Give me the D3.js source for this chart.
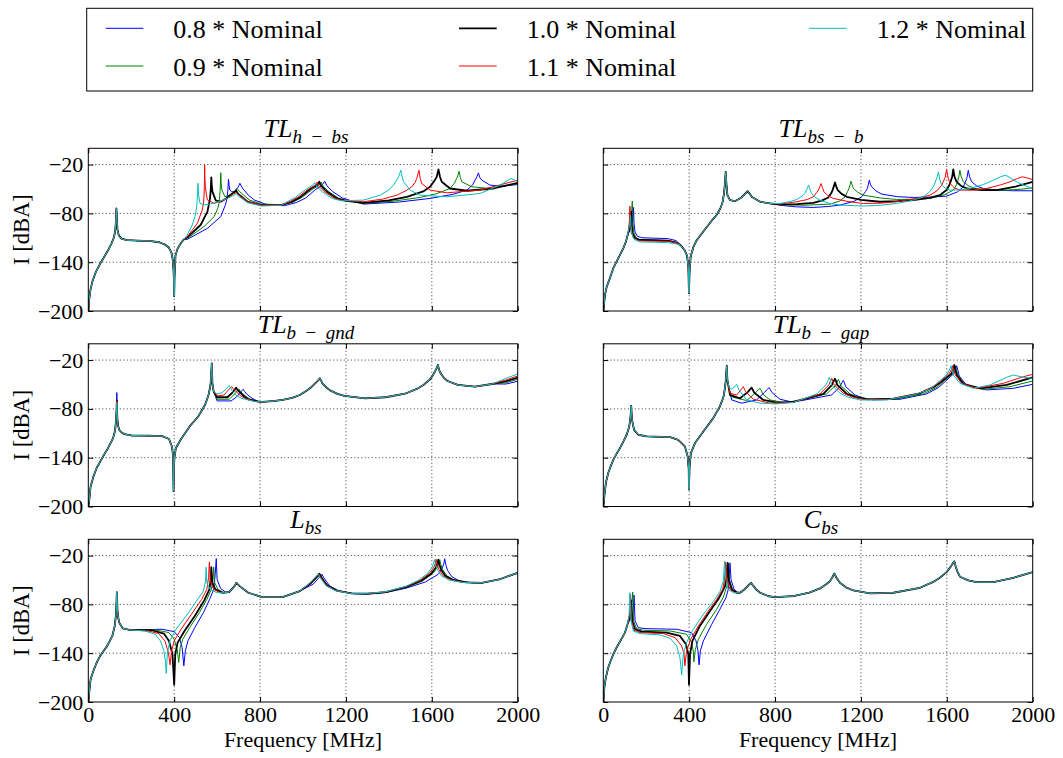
<!DOCTYPE html>
<html><head><meta charset="utf-8">
<script src="https://cdn.jsdelivr.net/npm/d3@7"></script>
<style>
body{margin:0;background:#fff;}
svg{display:block;background:#fff;}
text{font-family:"Liberation Serif","Times New Roman",serif;fill:#000;}
</style></head><body>
<svg id="chart" width="1063" height="758"></svg>
<script>
// ---------- labels / ticks ----------
const seriesLabels = ["0.8 * Nominal","0.9 * Nominal","1.0 * Nominal","1.1 * Nominal","1.2 * Nominal"];
const xTicks = [0,400,800,1200,1600,2000];
const yTicks = [-200,-140,-80,-20];
// [main symbol, subscript part 1, subscript part 2 (after minus)]
const panelTitles = [["TL","h","bs"],["TL","bs","b"],["TL","b","gnd"],["TL","b","gap"],["L","bs",""],["C","bs",""]];
const xLabel = "Frequency [MHz]";
const yLabel = "I [dBA]";

// ---------- data: [frequency MHz, I dBA] ----------
// TL h-bs
const hbsLow = [[0,-200],[4,-186],[10,-174],[20,-163],[35,-152],[55,-142],[75,-133],[95,-124],[110,-116],[120,-109],[126,-100],[129,-88],[131,-74],[133,-88],[136,-100],[142,-107],[155,-111],[180,-113],[230,-113.5],[290,-114],[330,-115.5],[355,-118],[375,-122],[387,-128],[394,-138],[398,-155],[400,-182],[402,-155],[406,-132],[415,-124],[430,-117],[445,-112]];
const hbs08 = hbsLow.concat([[461,-111.9],[555,-98.4],[617,-84],[638,-70],[645,-63.5],[650,-52],[653,-38.1],[656,-46],[659,-51.2],[668,-53.5],[680,-53.3],[695,-49],[702,-45.5],[706,-43],[712,-46],[719,-49.2],[745,-57.5],[773,-63.5],[836,-69.7],[914,-70.5],[971,-66.5],[1013,-61],[1059,-50.5],[1089,-45.5],[1101,-40.4],[1111,-46],[1137,-53],[1183,-61],[1225,-64.5],[1282,-68.6],[1450,-66],[1592,-61.6],[1700,-56.5],[1763,-51.4],[1790,-45],[1801,-39.2],[1810,-35],[1817,-30.2],[1824,-36],[1833,-39.2],[1871,-45.3],[1933,-46.5],[2000,-44.5]]);
const hbs09 = hbsLow.concat([[461,-110.7],[539,-96.3],[586,-84],[603,-74],[609,-67.6],[614,-52],[617,-30],[619,-43],[622,-51.2],[636,-59.4],[650,-58.5],[664,-56.1],[680,-53],[692,-49.2],[698,-51],[705,-53.3],[750,-63.5],[805,-68.4],[900,-69.5],[955,-66],[997,-60],[1043,-50.5],[1073,-46],[1085,-41.5],[1095,-47],[1121,-53.5],[1167,-61.6],[1209,-64.5],[1282,-67.8],[1420,-65],[1546,-60.4],[1620,-56],[1685,-49.4],[1705,-43],[1716,-37],[1722,-33],[1727,-28.2],[1733,-36],[1740,-41.2],[1786,-47.3],[1871,-49.4],[2000,-43.3]]);
const hbs10 = hbsLow.concat([[461,-109.4],[523,-94.3],[555,-77.9],[567,-61.5],[570,-52],[573,-35.7],[575,-45],[578,-53.3],[594,-64.3],[617,-65.6],[640,-62],[664,-57.4],[680,-54],[689,-52],[698,-56],[742,-65.6],[805,-69.7],[900,-69.5],[946,-66],[988,-60],[1034,-50],[1064,-45.5],[1076,-41.2],[1086,-46.5],[1112,-53.5],[1158,-61.6],[1200,-64.5],[1282,-67],[1400,-64],[1484,-59.6],[1560,-53],[1592,-47.3],[1612,-40],[1623,-35],[1631,-26],[1638,-35],[1646,-41.2],[1685,-49.4],[1763,-52.2],[1887,-49.4],[2000,-42.4]]);
const hbs11 = hbsLow.concat([[461,-108.6],[508,-92.2],[531,-75.8],[537,-66],[539,-59.4],[541,-40],[542,-20.5],[543,-35],[545,-47],[550,-57],[555,-63.5],[586,-67.6],[620,-65],[648,-61.5],[675,-56],[689,-54.5],[700,-57.5],[742,-65.6],[805,-69.7],[900,-69.5],[935,-66],[977,-60],[1023,-50.5],[1053,-46],[1065,-41.8],[1075,-47],[1101,-53.5],[1147,-61.6],[1189,-64.5],[1282,-65.7],[1370,-62.5],[1437,-57.6],[1480,-52],[1507,-47.3],[1522,-42],[1530,-37],[1540,-27],[1546,-37],[1553,-43.3],[1592,-51.4],[1670,-54.7],[1825,-51.4],[2000,-39.2]]);
const hbs12 = hbsLow.concat([[461,-106.6],[484,-94.3],[497,-84],[505,-71.7],[509,-57.4],[511,-43],[512,-48],[514,-57.4],[520,-67.6],[539,-69.7],[586,-67.6],[648,-61.5],[680,-57.4],[689,-55.3],[698,-58.6],[742,-66.8],[805,-70.9],[900,-70],[924,-66],[966,-60],[1012,-50.5],[1042,-46],[1054,-42.4],[1064,-47],[1090,-53.5],[1136,-61.6],[1178,-64.5],[1282,-63.7],[1360,-57.6],[1400,-51],[1422,-45.3],[1445,-35],[1456,-27],[1462,-35],[1468,-41],[1499,-51.4],[1546,-57.6],[1670,-59.6],[1825,-55.5],[1918,-45.3],[1969,-37],[2000,-41]]);

// TL bs-b
const bsbRise = [[0,-200],[4,-190],[8,-180],[16,-170],[31,-159.6],[47,-147],[70,-135],[93,-123],[105,-115],[112,-108]];
const bsbMid = [[360,-119],[378,-125],[390,-132],[396,-145],[399,-178],[402,-150],[407,-133],[420,-121],[435,-113],[458,-105],[481,-97],[505,-89],[528,-82],[545,-74],[555,-67],[562,-56],[567,-42],[570,-29],[573,-42],[578,-57.6],[590,-63.7],[613,-65],[644,-60.4],[660,-56],[672,-52.7],[682,-56],[691,-59.6],[730,-65.7],[776,-67.8]];
const bsb08 = bsbRise.concat([[125,-100],[135,-90],[141,-72.7],[143,-92],[148,-103],[158,-108],[180,-110],[240,-110.5],[300,-111],[340,-113.5]], bsbMid, [[823,-70],[900,-72],[978,-72.7],[1050,-71.5],[1102,-69.8],[1170,-65],[1203,-59.6],[1222,-53],[1230,-49.4],[1235,-44],[1239,-39.2],[1244,-44],[1250,-47.3],[1270,-52.5],[1297,-56.3],[1370,-59.5],[1444,-60.4],[1530,-60],[1599,-58.8],[1650,-53.5],[1677,-47.3],[1693,-37.1],[1700,-27],[1706,-35],[1716,-41.2],[1740,-46.5],[1770,-49.4],[1840,-51.5],[1910,-52.2],[2000,-52.2]]);
const bsb09 = bsbRise.concat([[122,-100],[130,-88],[135,-65],[137,-90],[142,-103],[152,-110],[170,-112.5],[220,-113],[300,-113.5],[340,-115.5]], bsbMid, [[823,-69.5],[940,-70],[1056,-68.6],[1100,-65],[1126,-59.6],[1138,-53],[1144,-49.4],[1149,-45],[1154,-40.4],[1159,-45],[1165,-49.4],[1185,-54],[1211,-57.6],[1290,-61],[1366,-62.9],[1450,-62.5],[1522,-61.6],[1590,-57],[1630,-51.4],[1645,-45],[1650,-41.2],[1656,-35],[1661,-27],[1667,-35],[1677,-41.2],[1700,-46],[1731,-49.4],[1800,-51],[1879,-51.4],[1950,-50.2],[2000,-48.6]]);
const bsb10 = bsbRise.concat([[120,-100],[126,-90],[130,-78],[132,-92],[136,-104],[146,-110],[170,-112.7],[240,-113],[300,-113.5],[340,-116]], bsbMid, [[823,-69],[900,-68.5],[978,-67],[1020,-64],[1048,-60.4],[1062,-55],[1068,-51.4],[1074,-46.5],[1079,-42],[1085,-47],[1092,-51.4],[1110,-56],[1134,-59.6],[1200,-63.5],[1289,-65.7],[1370,-65],[1444,-63.7],[1520,-61],[1568,-57.6],[1600,-51],[1615,-43.3],[1625,-35],[1630,-26],[1636,-35],[1646,-41.2],[1665,-46],[1693,-49.4],[1760,-51.5],[1832,-51.4],[1920,-47],[2000,-41.2]]);
const bsb11 = bsbRise.concat([[118,-100],[122,-88],[124,-71],[126,-90],[130,-103],[140,-110],[160,-113.5],[200,-114],[300,-114.5],[340,-116]], bsbMid, [[823,-68.5],[901,-65.7],[950,-63],[978,-59.6],[995,-54],[1002,-51.4],[1009,-47],[1014,-43.3],[1020,-48],[1028,-53.5],[1045,-58],[1071,-61.6],[1140,-65.5],[1211,-67.8],[1290,-67.5],[1366,-65.7],[1450,-62],[1522,-57.6],[1555,-52],[1576,-45.3],[1592,-36],[1599,-26],[1606,-36],[1615,-43.3],[1635,-48.5],[1661,-51.4],[1720,-51.5],[1786,-49.4],[1850,-45],[1894,-41.2],[1930,-37],[1952,-35],[1975,-36.5],[2000,-38.4]]);
const bsb12 = bsbRise.concat([[118,-100],[124,-92],[127,-82],[129,-95],[134,-106],[144,-112],[170,-115],[240,-115.5],[300,-116],[340,-117.5]], bsbMid, [[823,-67.8],[870,-65.5],[901,-62.9],[925,-59],[939,-55.5],[950,-49.5],[956,-45.3],[962,-50],[970,-55.5],[985,-60],[1009,-63.7],[1050,-67.5],[1102,-69.8],[1211,-71],[1290,-70],[1366,-67.8],[1440,-64],[1491,-59.6],[1520,-53.5],[1537,-47.3],[1553,-37],[1561,-29],[1567,-38],[1576,-45.3],[1595,-49.5],[1615,-51.4],[1660,-51],[1708,-49.4],[1770,-44.5],[1817,-39.2],[1850,-35],[1874,-33],[1900,-37],[1925,-41.2],[1960,-45.5],[2000,-49.4]]);

// TL b-gnd
const gndLowA = [[0,-200],[5,-191],[11,-175],[24,-163],[40,-152],[56,-144.5],[72,-137],[88,-130],[100,-124],[112,-118],[120,-112],[125,-105.7],[129,-95],[131,-85]];
const gndLowB = [[135,-90],[138,-100],[144,-105.7],[155,-109],[168,-111],[200,-112.7],[280,-113],[344,-113.5],[376,-117],[389,-126],[394,-135],[396,-150],[397,-181],[399,-150],[402,-138],[408,-128],[432,-117],[472,-101.6],[512,-89.4],[544,-75],[560,-63],[566,-55],[570,-48.6],[575,-24],[578,-48.6],[584,-58.8]];
const gndTail = [[809,-71.4],[860,-70.5],[905,-69],[950,-66.5],[985,-62.9],[1020,-57],[1041,-52.7],[1065,-46.5],[1072,-44.5],[1078,-42.4],[1084,-45],[1090,-48.6],[1110,-54],[1129,-57.6],[1160,-61.5],[1193,-64],[1289,-67],[1385,-65.7],[1481,-60.8],[1530,-55.5],[1561,-50.6],[1590,-44],[1601,-40.4],[1615,-34],[1622,-30.2],[1628,-26],[1634,-32],[1641,-36.3],[1655,-41.5],[1673,-45.7],[1721,-50.6],[1801,-52.7],[1881,-49.4]];
const gnd08 = gndLowA.concat([[133,-60]], gndLowB, [[600,-70.2],[665,-70.2],[690,-65.5],[705,-61],[714,-58],[721,-55.9],[728,-58.5],[737,-61.6],[757,-66],[777,-69],[795,-71]], gndTail, [[1946,-49.4],[2000,-46.1]]);
const gnd09 = gndLowA.concat([[133,-69]], gndLowB, [[600,-68.2],[656,-68.2],[685,-61],[696,-57],[701,-55.5],[708,-58.5],[721,-61.6],[740,-66],[761,-69],[790,-71]], gndTail, [[1946,-47.8],[2000,-43.7]]);
const gnd10 = gndLowA.concat([[133,-70]], gndLowB, [[600,-65.7],[648,-65.7],[675,-59],[684,-55.5],[689,-53.9],[696,-57],[708,-60],[725,-64.5],[745,-68.2],[793,-71]], gndTail, [[1946,-46],[2000,-41.6]]);
const gnd11 = gndLowA.concat([[133,-70]], gndLowB, [[600,-64],[632,-62.9],[655,-56],[663,-54],[668,-52.7],[675,-55.5],[689,-58.8],[710,-64],[729,-67],[777,-71]], gndTail, [[1946,-44.5],[2000,-39.6]]);
const gnd12 = gndLowA.concat([[133,-72]], gndLowB, [[600,-61.6],[624,-60],[645,-54.7],[652,-52.5],[656,-51.4],[662,-54],[673,-58.8],[690,-63.5],[713,-67],[777,-71]], gndTail, [[1946,-42.4],[2000,-37.1]]);

// TL b-gap
const gapLow = [[0,-200],[5,-187],[12,-171],[23,-158.8],[35,-150],[47,-142.4],[62,-135],[78,-128],[94,-120],[109,-111.8],[121,-101.6],[127,-89.4],[130,-76.3],[132,-86],[134,-93.5],[143,-105.7],[163,-111.8],[202,-113.9],[311,-114.7],[349,-118],[380,-126],[393,-138.4],[398,-154.7],[399,-179],[402,-150],[408,-134.3],[427,-122],[466,-107.8],[512,-91.4],[543,-77],[556,-68],[562,-62.9],[570,-46.5],[575,-27],[578,-44.5]];
const gap08 = gapLow.concat([[598,-69],[644,-73],[714,-69],[750,-60],[761,-56.7],[768,-55],[773,-53.9],[778,-56.5],[786,-60],[823,-68.2],[870,-71],[920,-70],[1064,-62.9],[1102,-52.7],[1111,-48],[1118,-44.9],[1123,-48],[1129,-52.7],[1172,-62.9],[1210,-66.5],[1258,-69],[1382,-68.2],[1506,-61.6],[1560,-54],[1592,-46.5],[1634,-36.3],[1641,-31],[1646,-27],[1651,-32],[1658,-39.6],[1693,-51.4],[1786,-56.7],[1910,-54.7],[2000,-49.8]]);
const gap09 = gapLow.concat([[593,-64.9],[668,-69.8],[714,-58.8],[724,-56],[730,-54.7],[736,-57.5],[742,-61.6],[776,-69],[839,-72.2],[885,-71.5],[1040,-61.6],[1081,-51.4],[1089,-47],[1095,-43.7],[1100,-47],[1106,-51.4],[1149,-61.6],[1190,-65.5],[1242,-68.2],[1366,-67.8],[1491,-61.6],[1550,-54],[1584,-46.5],[1627,-36.3],[1635,-31],[1640,-27],[1645,-32],[1652,-38.4],[1685,-50.6],[1770,-55.9],[1894,-52.7],[2000,-45.7]]);
const gap10 = gapLow.concat([[590,-62.9],[637,-67],[675,-58.8],[685,-55.5],[691,-53.9],[697,-57],[703,-60],[745,-69],[807,-72.2],[885,-71.5],[1025,-61.6],[1065,-50.6],[1073,-46],[1079,-42.9],[1084,-46],[1090,-50.6],[1134,-61.6],[1175,-65.5],[1227,-68.2],[1351,-67.3],[1475,-60.8],[1540,-53],[1576,-46.5],[1623,-36.3],[1630,-31],[1635,-26.1],[1640,-32],[1646,-38.4],[1677,-49.4],[1755,-54.7],[1879,-50.6],[2000,-41.2]]);
const gap11 = gapLow.concat([[590,-60.8],[621,-62.9],[644,-55.5],[652,-52.7],[663,-58.8],[699,-68.2],[776,-73],[885,-72],[1009,-61.6],[1050,-50.6],[1058,-46],[1064,-42.4],[1069,-46],[1075,-50.6],[1118,-60.8],[1160,-65.5],[1211,-68.2],[1335,-68.2],[1460,-61.6],[1530,-54],[1568,-46.5],[1612,-36.3],[1622,-31],[1627,-27],[1632,-32],[1640,-38.4],[1669,-48.6],[1739,-54.7],[1863,-48.6],[1957,-40.4],[2000,-37.6]]);
const gap12 = gapLow.concat([[587,-54.7],[598,-55.5],[613,-52.7],[621,-49.8],[632,-56.7],[668,-69],[730,-73],[807,-73.9],[885,-72.2],[994,-61.6],[1037,-50.6],[1047,-45],[1053,-41.2],[1058,-45],[1064,-50.6],[1102,-60.8],[1140,-65.5],[1196,-69],[1320,-69],[1444,-62.9],[1520,-56],[1553,-48.6],[1599,-38.4],[1614,-31],[1620,-27],[1625,-32],[1630,-38.4],[1661,-48.6],[1724,-54.7],[1801,-50.6],[1879,-41.2],[1910,-38.4],[1957,-41.2],[2000,-42.4]]);

// L bs
const lbsLow = [[0,-200],[5,-186],[11,-171.8],[24,-161.6],[40,-151],[56,-143],[72,-137],[88,-131],[100,-125],[112,-118.8],[123,-106.5],[128,-95],[130,-88],[133,-64.9],[135,-80],[136,-88],[140,-97],[144,-102.4],[160,-109.4],[192,-111.4]];
const lbsMid = [[656,-64.9],[681,-57.6],[690,-53.5],[705,-57.6],[745,-65.7],[809,-71],[905,-71],[985,-63.7]];
const lbsEnd = [[1833,-53.5],[1913,-49.4],[2000,-41.2]];
const lbs08 = lbsLow.concat([[344,-110.6],[400,-113.5],[424,-120.8],[437,-133.1],[445,-155.5],[452,-137.1],[464,-124.9],[496,-108.6],[536,-90.2],[565,-73.9],[584,-61.6],[591,-43.3],[596,-23.7],[600,-49.4],[616,-60.4],[640,-64.9]], lbsMid, [[1048,-55],[1070,-48.5],[1081,-45.5],[1088,-43],[1095,-46.5],[1108,-51.5],[1125,-57.5],[1168,-63.5],[1238,-67],[1300,-67.5],[1385,-65.5],[1481,-60],[1570,-52.5],[1630,-43],[1648,-36],[1656,-30],[1660,-24],[1665,-31],[1673,-38],[1693,-46],[1728,-51],[1788,-53.5]], lbsEnd);
const lbs09 = lbsLow.concat([[312,-111.4],[376,-114.7],[400,-122.9],[415,-137.1],[421,-151.4],[428,-133.1],[440,-122.9],[472,-108.6],[517,-90.2],[552,-73.9],[573,-61.6],[581,-49.4],[584,-34.3],[589,-53.5],[604,-61.6],[632,-65.7],[648,-65.2]], lbsMid, [[1039,-54],[1061,-48],[1072,-45],[1079,-42.4],[1086,-46],[1099,-51],[1116,-57],[1159,-63],[1229,-66.5],[1300,-67],[1385,-65.2],[1481,-59],[1555,-51.5],[1605,-42],[1625,-35],[1633,-30],[1637,-25],[1642,-31],[1650,-37],[1670,-45],[1705,-50],[1765,-53]], lbsEnd);
const lbs10 = lbsLow.concat([[296,-111.8],[352,-115.9],[376,-124.9],[392,-141.2],[400,-178.8],[405,-141.2],[416,-127],[448,-112.7],[496,-94.3],[540,-75.1],[564,-61.6],[570,-49.4],[573,-34.3],[578,-53.5],[592,-61.6],[624,-65.7],[645,-65.3]], lbsMid, [[1036,-54],[1058,-48],[1069,-45],[1076,-42.4],[1083,-46],[1096,-51],[1113,-57],[1156,-63],[1226,-66.5],[1300,-66.9],[1385,-65],[1481,-58.5],[1550,-51],[1598,-42],[1618,-35],[1626,-30],[1630,-25],[1635,-31],[1643,-37],[1663,-45],[1698,-50],[1758,-53]], lbsEnd);
const lbs11 = lbsLow.concat([[280,-112.7],[328,-115.9],[357,-124.9],[373,-139.2],[381,-154.3],[388,-137.1],[400,-124.9],[432,-110.6],[480,-92.2],[528,-73.9],[552,-61.6],[560,-47.3],[564,-27.8],[568,-51.4],[584,-61.6],[616,-65.7],[640,-65.5]], lbsMid, [[1033,-54],[1055,-48],[1066,-45],[1073,-42.4],[1080,-46],[1093,-51],[1110,-57],[1153,-63],[1223,-66.5],[1300,-66.7],[1385,-64.7],[1481,-58],[1545,-50.5],[1588,-42],[1608,-35],[1616,-30],[1620,-24.5],[1625,-31],[1633,-37],[1653,-45],[1688,-50],[1748,-53]], lbsEnd);
const lbs12 = lbsLow.concat([[264,-112.7],[312,-116.7],[336,-124.9],[352,-137],[360,-151.4],[363,-165],[368,-141],[380,-124.9],[408,-110.6],[456,-94.3],[504,-75.9],[536,-63.7],[546,-51.4],[549,-34.3],[552,-53.5],[568,-61.6],[600,-65.7],[632,-65.7]], lbsMid, [[1030,-54],[1052,-48],[1063,-45],[1070,-42.4],[1077,-46],[1090,-51],[1107,-57],[1150,-63],[1220,-66.5],[1300,-66.5],[1385,-64.5],[1481,-57.6],[1540,-50],[1580,-42],[1600,-35],[1608,-30],[1612,-25],[1617,-31],[1625,-37],[1645,-45],[1680,-50],[1740,-53]], lbsEnd);

// C bs
const cbsStart = [[0,-200],[5,-182],[12,-169.8],[23,-157.6],[35,-149],[47,-141.2],[62,-133],[78,-125.7],[90,-120],[101,-114.7],[113,-104.5]];
const cbsTail = [[637,-65.7],[660,-61],[678,-56],[688,-53.5],[698,-57],[712,-61.5],[730,-65.7],[770,-70],[800,-71],[885,-69.8],[960,-65.5],[1009,-60.4],[1040,-55],[1056,-51.4],[1068,-46],[1076,-42],[1084,-46.5],[1102,-53.5],[1130,-59],[1165,-62.9],[1242,-66.5],[1351,-65.7],[1475,-59.6],[1540,-52],[1568,-47.3],[1600,-40],[1620,-33],[1628,-29.5],[1635,-27],[1642,-34],[1650,-40],[1661,-46],[1700,-50.5],[1739,-52.7],[1817,-52.7],[1910,-47.3],[2000,-40.4]];
const cbs08 = cbsStart.concat([[138,-92.2],[143,-68.6],[148,-100.4],[163,-108.6],[194,-109.8],[342,-110.6],[411,-114.7],[432,-124.9],[441,-137.1],[446,-154.3],[452,-137.1],[466,-124.9],[505,-104.5],[543,-86.1],[571,-71.8],[582,-61.6],[587,-43.3],[590,-29],[595,-49.4],[609,-61.6],[629,-65.7]], cbsTail);
const cbs09 = cbsStart.concat([[130,-92.2],[137,-64.9],[141,-100.4],[155,-109.8],[186,-111.8],[311,-112.7],[388,-116.7],[411,-126.9],[419,-137.1],[422,-150.6],[429,-135.1],[443,-122.9],[481,-104.5],[528,-86.1],[559,-71],[575,-57.6],[579,-43.3],[582,-29],[587,-49.4],[602,-61.6],[624,-65.7]], cbsTail);
const cbs10 = cbsStart.concat([[126,-92.2],[129,-75.1],[135,-100.4],[148,-110.6],[179,-113.5],[295,-114.7],[357,-118.8],[385,-129],[396,-141.2],[399,-178.8],[404,-141.2],[415,-124.9],[450,-106.5],[497,-88.2],[540,-71.8],[567,-57.6],[575,-43.3],[579,-29],[584,-49.4],[598,-61.6],[621,-65.7]], cbsTail);
const cbs11 = cbsStart.concat([[123,-92.2],[127,-67.8],[132,-100.4],[143,-111.8],[171,-114.7],[280,-115.9],[334,-120.8],[365,-131],[376,-141.2],[380,-155.5],[388,-137.1],[407,-122.9],[443,-106.5],[489,-88.2],[528,-73.9],[556,-61.6],[565,-49.4],[570,-28.2],[575,-49.4],[590,-61.6],[613,-65.7]], cbsTail);
const cbs12 = cbsStart.concat([[120,-92.2],[124,-65.7],[129,-100.4],[140,-112.7],[171,-115.9],[264,-117.6],[311,-121.6],[342,-131],[357,-145.3],[365,-166.5],[373,-141.2],[388,-126.9],[419,-110.6],[466,-92.2],[512,-76.7],[543,-64.5],[559,-51.4],[565,-27],[570,-49.4],[582,-61.6],[606,-65.7]], cbsTail);

const panelSeries = [
  [hbs08,hbs09,hbs10,hbs11,hbs12],
  [bsb08,bsb09,bsb10,bsb11,bsb12],
  [gnd08,gnd09,gnd10,gnd11,gnd12],
  [gap08,gap09,gap10,gap11,gap12],
  [lbs08,lbs09,lbs10,lbs11,lbs12],
  [cbs08,cbs09,cbs10,cbs11,cbs12]
];

// ---------- styles / layout ----------
const seriesColors = ["#0000ff","#008000","#000000","#ff0000","#00bfbf"];
const seriesWidths = [1,1,1.8,1,1];
const colLeft = [88.3, 603.3], plotW = 429.4;
const rowTop = [148.3, 343.8, 539.3], plotH = 162.7;

const svg = d3.select("#chart");
const x = d3.scaleLinear().domain([0,2000]).range([0,plotW]);
const y = d3.scaleLinear().domain([-200,0]).range([plotH,0]);
const line = d3.line().x(d=>x(d[0])).y(d=>y(d[1]));

panelSeries.forEach((series,i)=>{
  const col=i%2,row=Math.floor(i/2);
  const g = svg.append("g").attr("transform",`translate(${colLeft[col]},${rowTop[row]})`);
  const cid = "clip"+i;
  g.append("clipPath").attr("id",cid).append("rect").attr("x",0).attr("y",0).attr("width",plotW).attr("height",plotH);
  // grid
  const grid = g.append("g").attr("stroke","#000").attr("stroke-width",0.8).attr("stroke-dasharray","1,2.5");
  xTicks.filter(t=>t>0&&t<2000).forEach(t=>grid.append("line").attr("x1",x(t)).attr("x2",x(t)).attr("y1",0).attr("y2",plotH));
  yTicks.filter(t=>t>-200&&t<0).forEach(t=>grid.append("line").attr("x1",0).attr("x2",plotW).attr("y1",y(t)).attr("y2",y(t)));
  // series
  const lg = g.append("g").attr("clip-path",`url(#${cid})`);
  series.forEach((s,k)=>{
    lg.append("path").datum(s).attr("d",line).attr("fill","none")
      .attr("stroke",seriesColors[k]).attr("stroke-width",seriesWidths[k]).attr("stroke-linejoin","round");
  });
  // axes (ticks inside on all sides)
  const showX = row===2, showY = col===0;
  const ab = d3.axisBottom(x).tickValues(xTicks).tickSizeInner(-5).tickSizeOuter(0).tickPadding(4).tickFormat(showX?d3.format("d"):"");
  const at = d3.axisTop(x).tickValues(xTicks).tickSizeInner(-5).tickSizeOuter(0).tickFormat("");
  const al = d3.axisLeft(y).tickValues(yTicks).tickSizeInner(-5).tickSizeOuter(0).tickPadding(5).tickFormat(showY?d3.format("d"):"");
  const ar = d3.axisRight(y).tickValues(yTicks).tickSizeInner(-5).tickSizeOuter(0).tickFormat("");
  [[ab,`translate(0,${plotH})`],[at,"translate(0,0)"],[al,"translate(0,0)"],[ar,`translate(${plotW},0)`]].forEach(([a,tr])=>{
    const ag = g.append("g").attr("transform",tr).call(a);
    ag.select(".domain").remove();
    ag.selectAll("text").attr("font-family",null).style("font-size","22px").style("font-family","'Liberation Serif',serif").attr("fill","#000");
    ag.selectAll("line").attr("stroke","#000");
  });
  // frame
  g.append("rect").attr("x",0).attr("y",0).attr("width",plotW).attr("height",plotH).attr("fill","none").attr("stroke","#000").attr("stroke-width",1);
  // title (math-style: italic symbols, upright minus in subscript)
  const pt = panelTitles[i];
  const t = g.append("text").attr("x",plotW/2+3).attr("y",-11.3).attr("text-anchor","middle").style("font-size","26px");
  t.append("tspan").style("font-style","italic").text(pt[0]);
  t.append("tspan").attr("dy",6).style("font-size","19px").style("font-style","italic").text(pt[1]);
  if(pt[2]){
    t.append("tspan").style("font-size","19px").text("\u2002\u2212\u2002");
    t.append("tspan").style("font-size","19px").style("font-style","italic").text(pt[2]);
  }
  if(showX){
    g.append("text").attr("x",plotW/2).attr("y",plotH+44.7).attr("text-anchor","middle").style("font-size","22px").text(xLabel);
  }
  if(showY){
    g.append("text").attr("transform",`translate(${28.5-colLeft[0]},${plotH/2}) rotate(-90)`).attr("text-anchor","middle").style("font-size","22.5px").text(yLabel);
  }
});

// ---------- legend ----------
const leg = svg.append("g");
leg.append("rect").attr("x",86.7).attr("y",8.3).attr("width",946).attr("height",82.7).attr("fill","#fff").attr("stroke","#000").attr("stroke-width",1);
const legCols = [[105.7,143.3,173.3],[459,496.7,526.7],[809,846.7,876.7]];
const legRows = [[28.3,37.7],[66,75.7]];
seriesLabels.forEach((lab,k)=>{
  const c = legCols[Math.floor(k/2)], r = legRows[k%2];
  leg.append("line").attr("x1",c[0]).attr("x2",c[1]).attr("y1",r[0]).attr("y2",r[0]).attr("stroke",seriesColors[k]).attr("stroke-width",seriesWidths[k]);
  leg.append("text").attr("x",c[2]).attr("y",r[1]).style("font-size","26px").text(lab);
});
</script>
</body></html>
